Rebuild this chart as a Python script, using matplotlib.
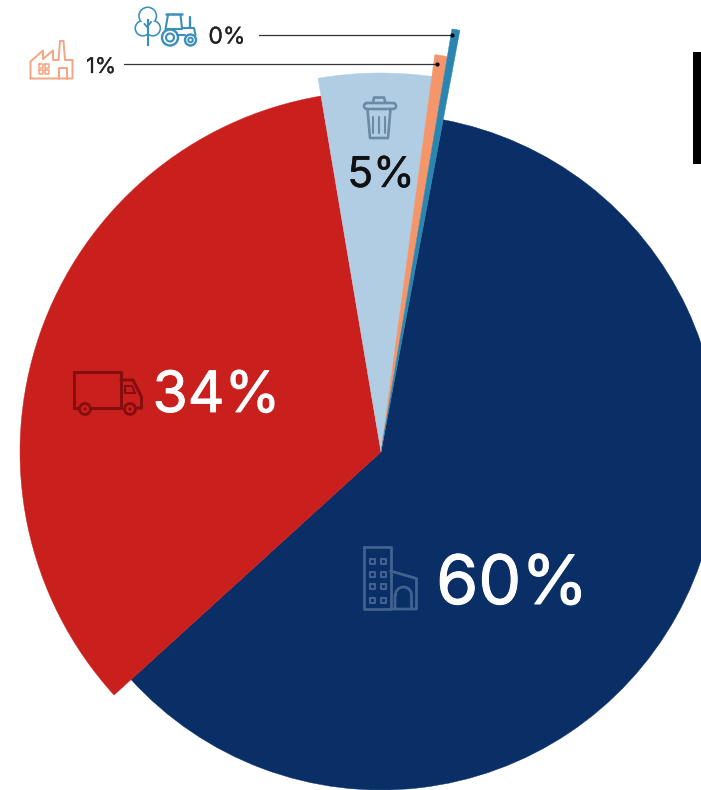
import numpy as np
import matplotlib
matplotlib.use('Agg')
import matplotlib.pyplot as plt
import matplotlib.patheffects as pe
from matplotlib.patches import Wedge, Rectangle, Circle

plt.rcParams['font.family'] = ['Inter', 'DejaVu Sans']

# share of each slice, clockwise from the navy one
sectors = ['Buildings', 'Transport', 'Waste', 'Industry', 'Agriculture']
shares = [60.3, 34.1, 4.8, 0.5, 0.3]
labels = ['60%', '34%', '5%', '1%', '0%']
radii = [338, 361, 379, 401, 429]
colors = ['#0a2e66', '#c9201d', '#b0cde4', '#f4956a', '#2a86b0']

NAVY_LINE = '#41628f'
TRUCK_LINE = '#860e0f'
TRASH_LINE = '#6c8aa6'
ORANGE = '#f4a583'
TEAL = '#3a8fbb'

center = (381, 452)
start = 10.6

fig = plt.figure(figsize=(7.01, 7.90), dpi=100)
ax = fig.add_axes([0, 0, 1, 1])
ax.set_xlim(0, 701)
ax.set_ylim(790, 0)  # y runs downward, in pixels
ax.axis('off')


def line(pts, color, lw=1.5, closed=False):
    pts = list(pts)
    if closed:
        pts.append(pts[0])
    xs, ys = zip(*pts)
    ax.plot(xs, ys, color=color, lw=lw, solid_capstyle='round', solid_joinstyle='round')


def arc(cx, cy, r, a1, a2, n=30):
    t = np.radians(np.linspace(a1, a2, n))
    return list(zip(cx + r * np.cos(t), cy + r * np.sin(t)))


def ring(cx, cy, r, color, lw=1.5):
    ax.add_patch(Circle((cx, cy), r, fill=False, ec=color, lw=lw))


def box(x0, y0, x1, y1, color, lw=1.5):
    line([(x0, y0), (x1, y0), (x1, y1), (x0, y1)], color, lw, closed=True)


def label(x, y, s, color, size, weight=0.8):
    t = ax.text(x, y, s, color=color, fontsize=size, ha='center', va='center_baseline')
    t.set_path_effects([pe.withStroke(linewidth=weight, foreground=color)])


# slices
angle = start
for share, r, color in zip(shares, radii, colors):
    sweep = share * 3.6
    ax.add_patch(Wedge(center, r, angle - 90, angle + sweep - 90, fc=color, ec=color, lw=0.3))
    angle += sweep

# percent labels
label(512, 579, labels[0], 'white', 49, 0.7)
label(216.5, 391, labels[1], 'white', 41, 0.6)
label(381, 171, labels[2], '#111111', 30.5, 0.3)
label(101, 65, labels[3], '#222222', 15.5, 0.2)
label(227, 35, labels[4], '#222222', 16.5, 0.2)

# leader lines to the two thin slices
line([(259, 35), (452, 35)], '#333333', 0.9)
line([(124, 64), (437, 64)], '#333333', 0.9)
ax.plot([452, 437], [35, 64], 'o', color='black', ms=3, mew=0)

# heading block at the right edge
ax.add_patch(Rectangle((692.5, 52), 12, 112, fc='black', ec='none'))

# building
c = NAVY_LINE
box(364, 547, 390.5, 609, c, 2)
line([(390.5, 571), (416.5, 578.5), (416.5, 609), (390.5, 609)], c, 2)
line([(395, 609), (395, 595)] + arc(403.5, 595, 8, 180, 360) + [(411.5, 609)], c, 2)
for wy in (561.5, 574, 586.5, 600):
    for wx in (372, 383):
        box(wx - 2.5, wy - 2.5, wx + 2.5, wy + 2.5, c, 1.5)

# truck
c = TRUCK_LINE
box(74, 372, 121, 408, c, 2.2)
line([(121, 380), (133, 380), (141.5, 397), (141.5, 408), (133, 408)], c, 2.2)
line([(125, 386), (132, 386), (135, 393), (125, 393)], c, 1.5, closed=True)
for wx in (85, 130):
    ax.add_patch(Circle((wx, 409), 5.5, fc=colors[1], ec=c, lw=2, zorder=3))
    ax.add_patch(Circle((wx, 409), 1.6, fc=c, ec='none', zorder=3))

# trash can
c = TRASH_LINE
line([(367, 103), (393, 103)] + arc(393, 106, 3, -90, 90) + [(367, 109)] + arc(367, 106, 3, 90, 270), c, 1.9)
line([(373, 103), (374, 97.5), (384, 97.5), (385.5, 103)], c, 1.9)
line([(367.5, 109), (370, 138), (388, 138), (390.5, 109)], c, 1.9)
for rx in (373, 379, 385):
    line([(rx, 117), (rx, 133)], c, 1.5)

# factory
c = ORANGE
line([(30.5, 78.5), (30.5, 61.5), (43, 50.5), (43, 59), (53, 50.5), (53, 60), (58.5, 60),
      (60, 41), (63.5, 41), (65, 60), (72.5, 60), (72.5, 78.5)], c, 1.4, closed=True)
line([(58.5, 78.5), (58.5, 68), (66.5, 68), (66.5, 78.5)], c, 1.4)
for wx in (41, 46.5):
    for wy in (66, 72):
        box(wx - 2, wy - 2, wx + 2, wy + 2, c, 1.1)

# tree crown: outlined discs with white discs on top leave only the outer edge
c = TEAL
lobes = [(147.7, 16, 8.5), (142.8, 28.3, 7.3), (152.8, 28.3, 7.3)]
for lx, ly, lr in lobes:
    ax.add_patch(Circle((lx, ly), lr, fc='white', ec=c, lw=1.5, zorder=2))
for lx, ly, lr in lobes:
    ax.add_patch(Circle((lx, ly), lr - 0.6, fc='white', ec='none', zorder=2))
ax.plot([148, 148], [20, 45], color=c, lw=1.5, zorder=3)
ax.plot([148, 144.5], [28, 24], color=c, lw=1.3, zorder=3)
ax.plot([148, 151], [26, 22], color=c, lw=1.3, zorder=3)

# tractor
ring(170, 37.5, 8, c, 1.7)
ring(170, 37.5, 4, c, 1.5)
ring(190.5, 40, 5.5, c, 1.7)
ring(190.5, 40, 2.3, c, 1.4)
line([(166, 14), (182, 14)], c, 1.8)
line([(168, 15), (165.5, 29)], c, 1.5)
line([(180.5, 15), (182, 28), (194, 28), (195.5, 35)], c, 1.5)
line([(166, 29), (182, 29)], c, 1.5)
line([(178, 35), (185, 35)], c, 1.5)
line([(190, 17), (190, 27)], c, 1.7)

fig.savefig('out.png', dpi=100, facecolor='white')
